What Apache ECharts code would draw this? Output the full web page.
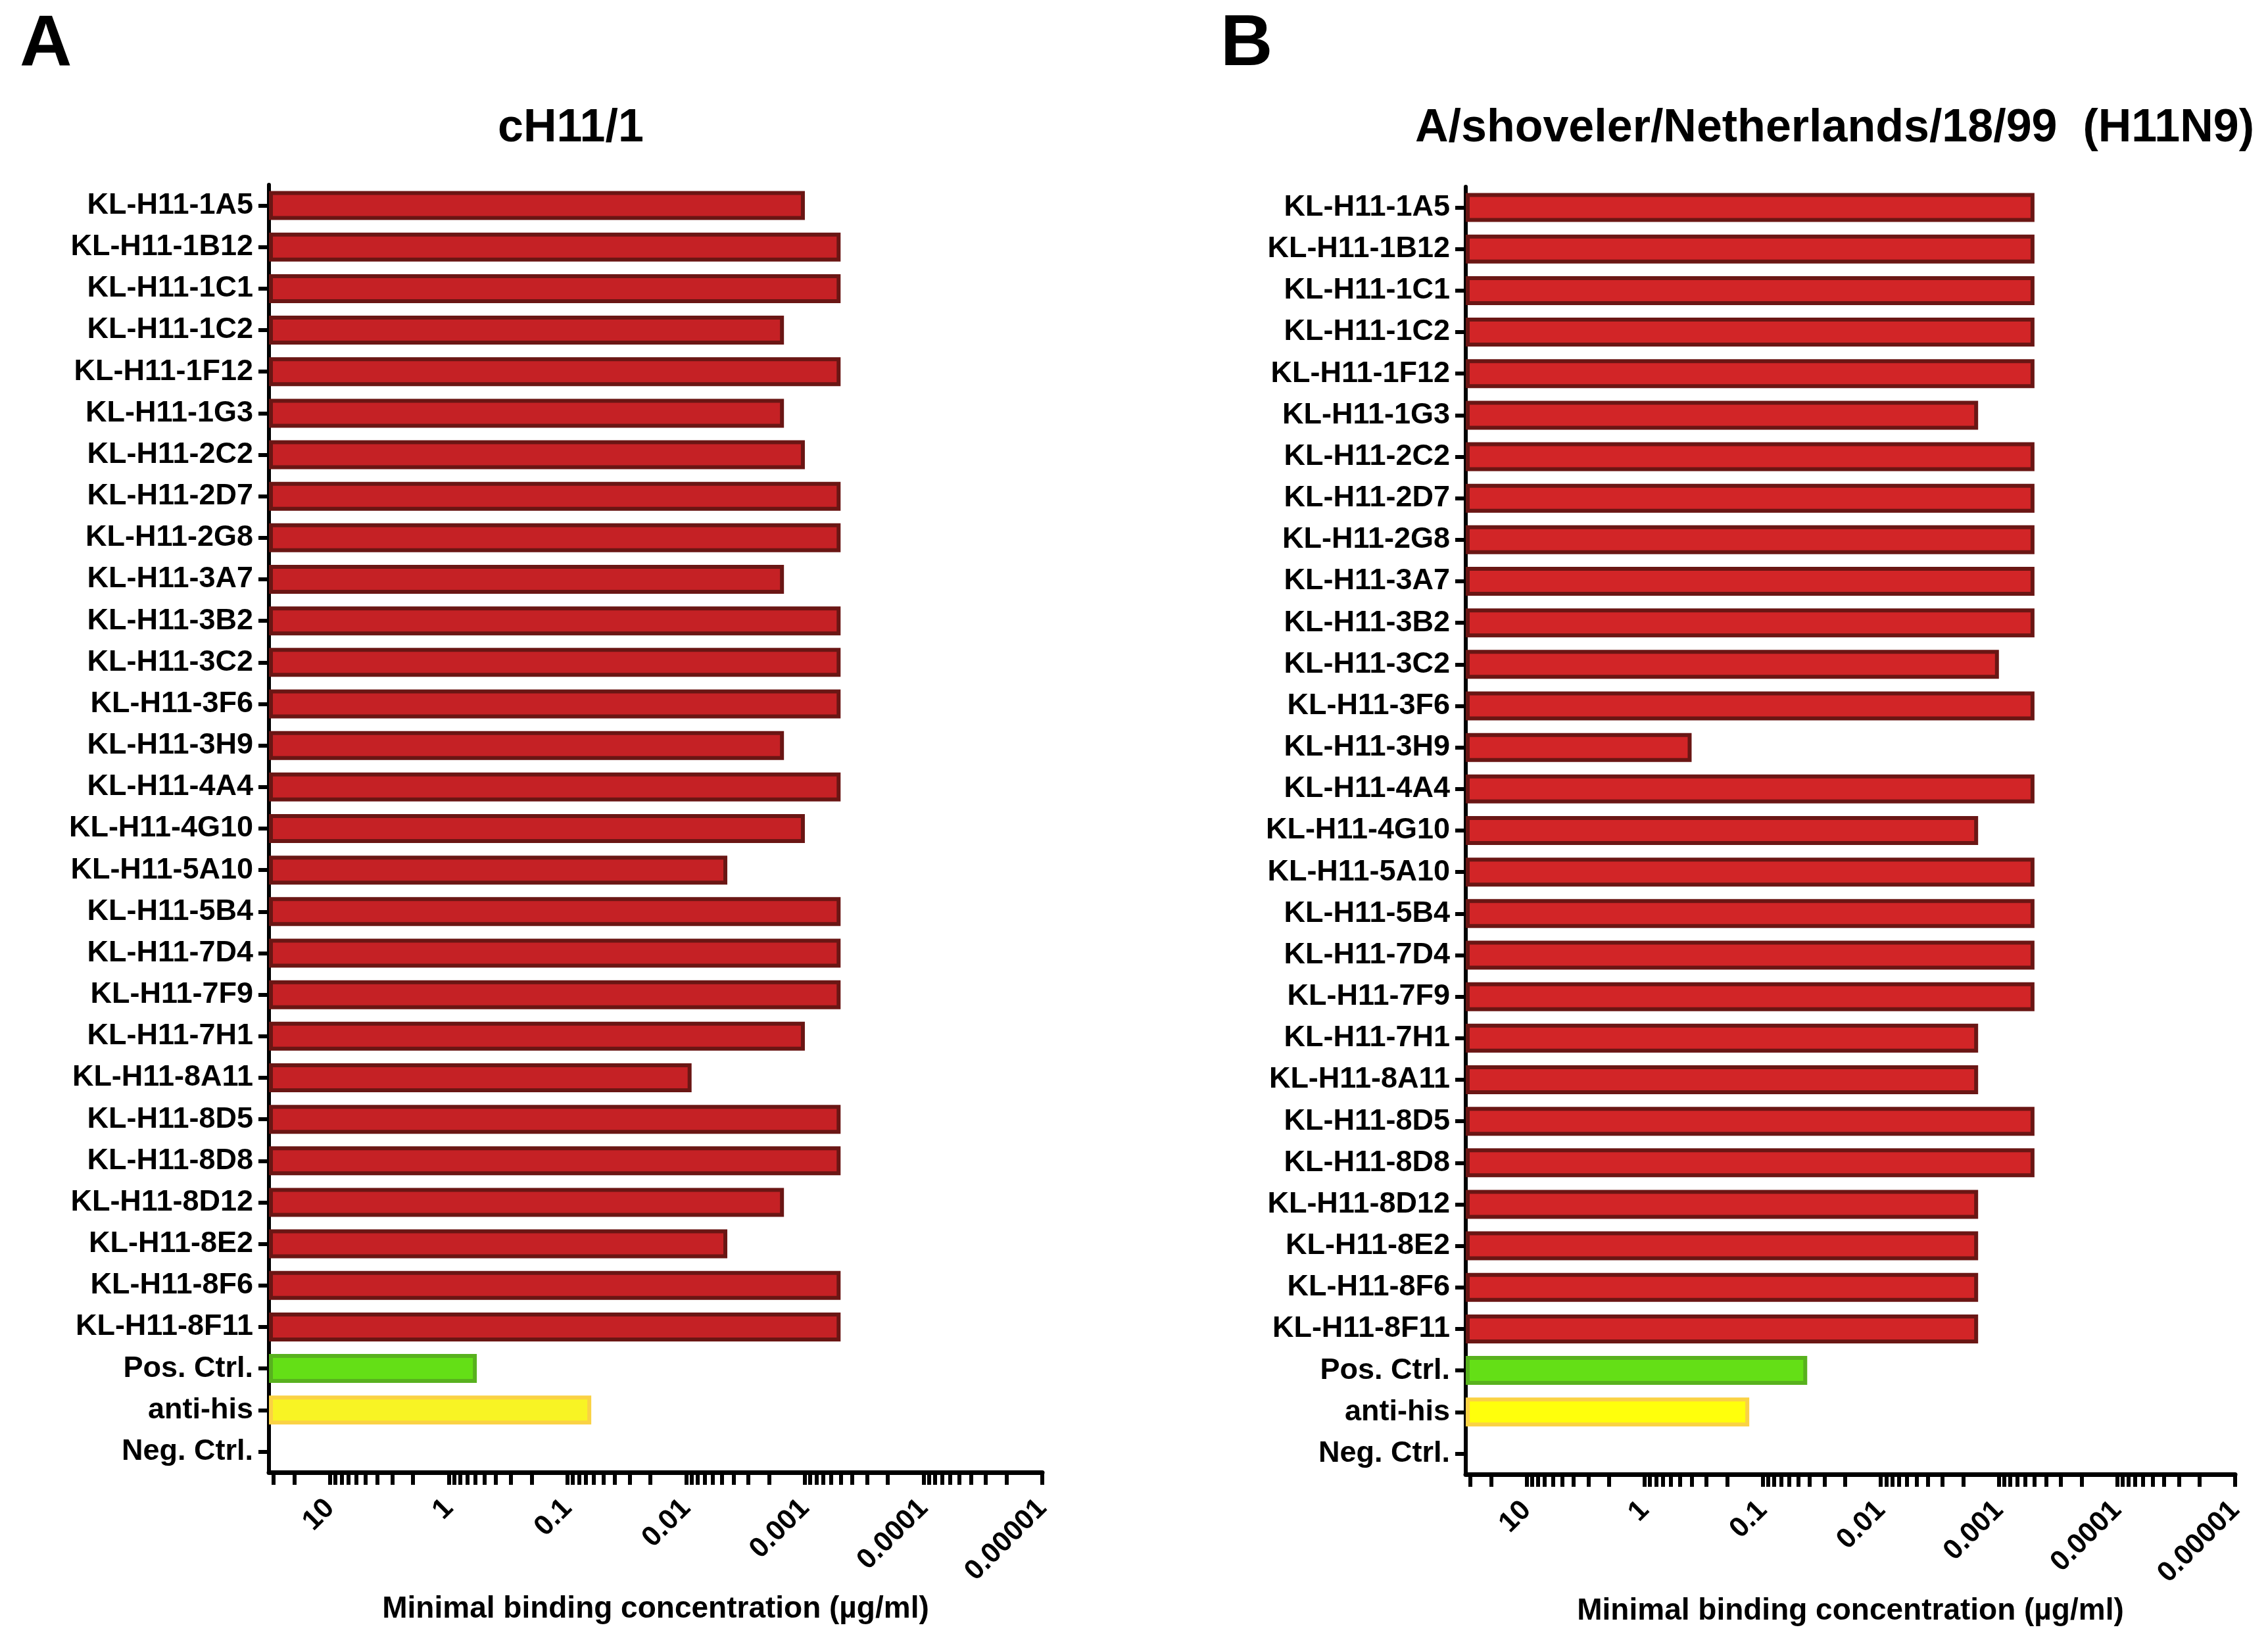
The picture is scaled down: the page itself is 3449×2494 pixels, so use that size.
<!DOCTYPE html>
<html>
<head>
<meta charset="utf-8">
<script src="https://cdn.jsdelivr.net/npm/echarts@6/dist/echarts.min.js"></script>
<style>
html,body{margin:0;padding:0;background:#fff;}
#c{width:3449px;height:2494px;}
</style>
</head>
<body>
<div id="c"></div>
<script>
// ---------- data ----------
const categories = [
  'KL-H11-1A5','KL-H11-1B12','KL-H11-1C1','KL-H11-1C2','KL-H11-1F12','KL-H11-1G3',
  'KL-H11-2C2','KL-H11-2D7','KL-H11-2G8','KL-H11-3A7','KL-H11-3B2','KL-H11-3C2',
  'KL-H11-3F6','KL-H11-3H9','KL-H11-4A4','KL-H11-4G10','KL-H11-5A10','KL-H11-5B4',
  'KL-H11-7D4','KL-H11-7F9','KL-H11-7H1','KL-H11-8A11','KL-H11-8D5','KL-H11-8D8',
  'KL-H11-8D12','KL-H11-8E2','KL-H11-8F6','KL-H11-8F11','Pos. Ctrl.','anti-his','Neg. Ctrl.'
];
// Panel A: cH11/1 (µg/ml)
const valuesA = [
  0.001, 0.0005, 0.0005, 0.0015, 0.0005, 0.0015,
  0.001, 0.0005, 0.0005, 0.0015, 0.0005, 0.0005,
  0.0005, 0.0015, 0.0005, 0.001, 0.0045, 0.0005,
  0.0005, 0.0005, 0.001, 0.009, 0.0005, 0.0005,
  0.0015, 0.0045, 0.0005, 0.0005, 0.58, 0.063, null
];
// Panel B: A/shoveler/Netherlands/18/99 (H11N9) (µg/ml)
const valuesB = [
  0.0005, 0.0005, 0.0005, 0.0005, 0.0005, 0.0015,
  0.0005, 0.0005, 0.0005, 0.0005, 0.0005, 0.001,
  0.0005, 0.4, 0.0005, 0.0015, 0.0005, 0.0005,
  0.0005, 0.0005, 0.0015, 0.0015, 0.0005, 0.0005,
  0.0015, 0.0015, 0.0015, 0.0015, 0.042, 0.13, null
];
const tickLabelValues = [10, 1, 0.1, 0.01, 0.001, 0.0001, 0.00001];
const tickLabels = ['10', '1', '0.1', '0.01', '0.001', '0.0001', '0.00001'];
const extraTicks = [30, 20];
const axisLeftValue = 32.7;   // value at the left end of the reversed log axis
const axisRightValue = 0.00001;
const titleA = 'cH11/1';
const titleB = 'A/shoveler/Netherlands/18/99  (H11N9)';
const axisName = 'Minimal binding concentration (µg/ml)';

// ---------- styling / building ----------
const FONT = "'Liberation Sans', Arial, Helvetica, sans-serif";
const minorTickValues = extraTicks.slice();
tickLabelValues.forEach((d, i) => {
  minorTickValues.push(d);
  if (i < tickLabelValues.length - 1) {
    for (let k = 9; k >= 2; k--) minorTickValues.push(k * tickLabelValues[i + 1]);
  }
});

function fmt(v) {
  const e = Math.round(Math.log10(v));
  const idx = tickLabelValues.findIndex(t => Math.round(Math.log10(t)) === e);
  return idx >= 0 ? tickLabels[idx] : '';
}

function buildData(values, red) {
  return values.map((v, i) => {
    const name = categories[i];
    let style = { color: red.fill, borderColor: red.border, borderWidth: 6 };
    if (name === 'Pos. Ctrl.') style = { color: '#64DF16', borderColor: '#58B11E', borderWidth: 6 };
    if (name === 'anti-his') style = { color: red.his, borderColor: '#FAD244', borderWidth: 6 };
    return { value: v, itemStyle: style };
  });
}

function xAxis(gi) {
  return {
    gridIndex: gi, type: 'log', logBase: 10,
    min: axisRightValue, max: axisLeftValue, inverse: true,
    startValue: axisLeftValue,
    axisLine: { show: true, onZero: false, lineStyle: { color: '#000', width: 7 } },
    axisTick: { show: true, customValues: minorTickValues, length: 19, lineStyle: { color: '#000', width: 6 } },
    minorTick: { show: false },
    splitLine: { show: false },
    axisLabel: {
      customValues: tickLabelValues, rotate: 45, margin: 48, formatter: fmt,
      fontSize: 43, fontWeight: 'bold', fontFamily: FONT, color: '#000'
    },
    name: axisName, nameLocation: 'middle', nameGap: 185,
    nameTextStyle: { fontSize: 46, fontWeight: 'bold', fontFamily: FONT, color: '#000' }
  };
}
function yAxis(gi) {
  return {
    gridIndex: gi, type: 'category', data: categories, inverse: true,
    axisLine: { show: true, lineStyle: { color: '#000', width: 6 } },
    axisTick: { show: true, alignWithLabel: true, length: 16, lineStyle: { color: '#000', width: 6 } },
    axisLabel: { interval: 0, margin: 24, fontSize: 45, fontWeight: 'bold', fontFamily: FONT, color: '#000' },
    splitLine: { show: false }
  };
}
function txt(text, x, y, size, align) {
  return {
    type: 'text', x: x, y: y,
    style: {
      text: text, font: 'bold ' + size + 'px ' + FONT, fill: '#000',
      align: align, verticalAlign: 'middle', textAlign: align, textVerticalAlign: 'middle'
    }
  };
}

const chart = echarts.init(document.getElementById('c'), null, { renderer: 'canvas', width: 3449, height: 2494 });
chart.setOption({
  backgroundColor: '#fff',
  animation: false,
  grid: [
    { left: 409, top: 281, width: 1176, height: 1958 },
    { left: 2229, top: 284, width: 1170, height: 1958 }
  ],
  xAxis: [xAxis(0), xAxis(1)],
  yAxis: [yAxis(0), yAxis(1)],
  graphic: [
    txt('A', 30, 69, 110, 'left'),
    txt('B', 1856, 69, 110, 'left'),
    txt(titleA, 868, 196, 70, 'center'),
    txt(titleB, 2790, 196, 70, 'center')
  ],
  series: [
    {
      type: 'bar', xAxisIndex: 0, yAxisIndex: 0, barWidth: 44,
      data: buildData(valuesA, { fill: '#C52125', border: '#6A1614', his: '#F8F424' })
    },
    {
      type: 'bar', xAxisIndex: 1, yAxisIndex: 1, barWidth: 44,
      data: buildData(valuesB, { fill: '#D22527', border: '#6A1614', his: '#FFFF0C' })
    }
  ]
});
</script>
</body>
</html>
